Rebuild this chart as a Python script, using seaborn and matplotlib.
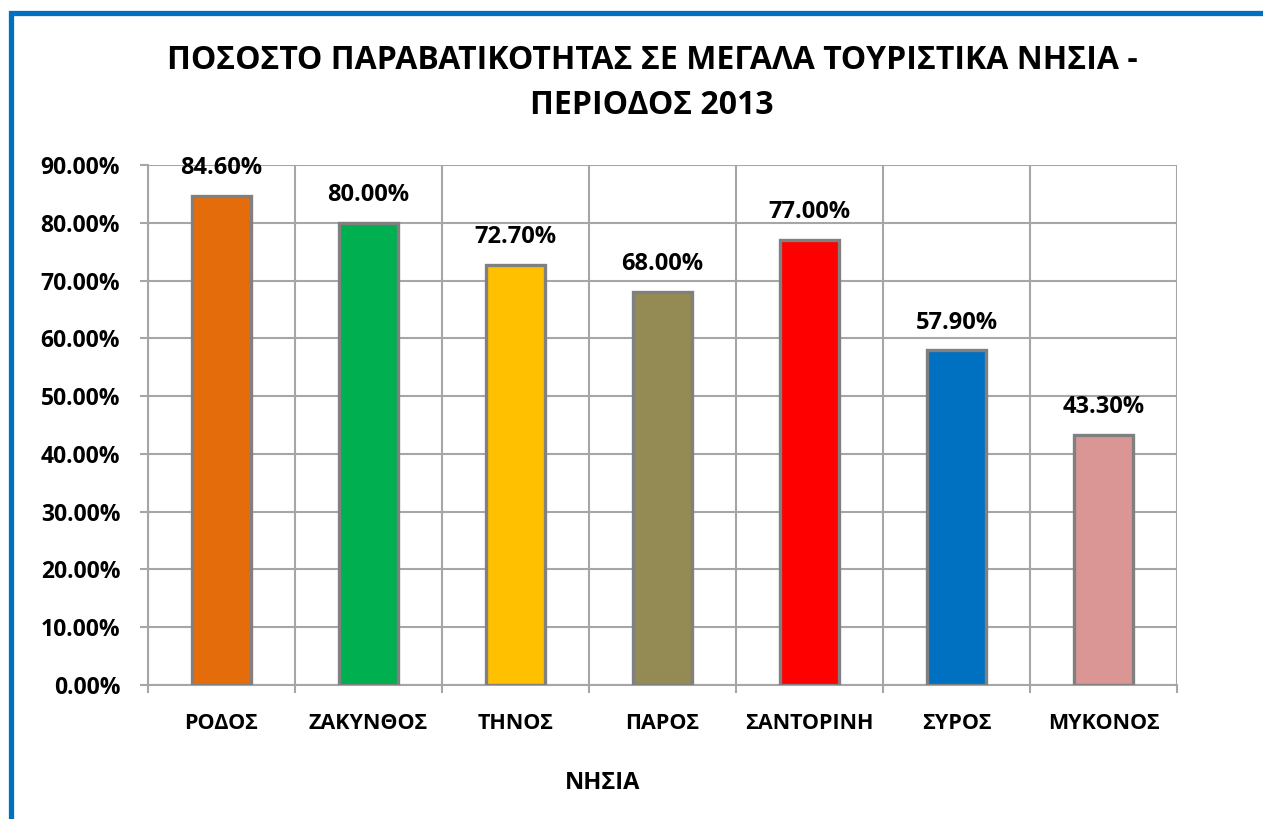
import matplotlib
matplotlib.use("Agg")
import matplotlib.pyplot as plt
from matplotlib.patches import Rectangle
from matplotlib.ticker import FuncFormatter, FixedLocator
import seaborn as sns
import pandas as pd

islands = ["ΡΟΔΟΣ", "ΖΑΚΥΝΘΟΣ", "ΤΗΝΟΣ", "ΠΑΡΟΣ", "ΣΑΝΤΟΡΙΝΗ", "ΣΥΡΟΣ", "ΜΥΚΟΝΟΣ"]
rates = [0.846, 0.800, 0.727, 0.680, 0.770, 0.579, 0.433]
bar_colors = ["#E46C0A", "#00B050", "#FFC000", "#948A54", "#FF0000", "#0070C0", "#D99694"]
y_ticks = [0.0, 0.1, 0.2, 0.3, 0.4, 0.5, 0.6, 0.7, 0.8, 0.9]

title = "ΠΟΣΟΣΤΟ ΠΑΡΑΒΑΤΙΚΟΤΗΤΑΣ ΣΕ ΜΕΓΑΛΑ ΤΟΥΡΙΣΤΙΚΑ ΝΗΣΙΑ -\nΠΕΡΙΟΔΟΣ 2013"
x_title = "ΝΗΣΙΑ"

sns.set_theme(style="white")
plt.rcParams["font.family"] = ["Open Sans", "DejaVu Sans"]
plt.rcParams["font.weight"] = "bold"
plt.rcParams["text.color"] = "black"
plt.rcParams["axes.labelcolor"] = "black"
plt.rcParams["xtick.labelcolor"] = "black"
plt.rcParams["ytick.labelcolor"] = "black"

df = pd.DataFrame({"island": islands, "rate": rates})

W, H = 1263, 819
fig = plt.figure(figsize=(W / 100, H / 100), dpi=100)
ax = fig.add_axes([148 / W, 1 - 685 / H, (1177 - 148) / W, (685 - 165) / H])

grid_col = "#A6A6A6"
sns.barplot(data=df, x="island", y="rate", hue="island", palette=bar_colors,
            order=islands, hue_order=islands, dodge=False, legend=False,
            saturation=1, width=0.4, edgecolor="#808080", linewidth=2.4, ax=ax, zorder=3)

ax.set_ylim(0, 0.9)
ax.set_xlim(-0.5, len(islands) - 0.5)
ax.set_yticks(y_ticks)
ax.yaxis.set_major_formatter(FuncFormatter(lambda v, p: f"{v * 100:.2f}%"))
ax.grid(axis="y", color=grid_col, linewidth=1.5, zorder=0)

# category boundaries carry the vertical grid lines and the outward ticks
bounds = [i - 0.5 for i in range(len(islands) + 1)]
ax.xaxis.set_minor_locator(FixedLocator(bounds))
ax.grid(axis="x", which="minor", color=grid_col, linewidth=1.5, zorder=0)
ax.tick_params(axis="x", which="minor", bottom=True, length=6, width=1.5, color=grid_col)
ax.tick_params(axis="x", which="major", bottom=False, length=0, pad=20, labelsize=15.5,
               labelcolor="black")
ax.tick_params(axis="y", which="major", left=True, length=6, width=1.5, color=grid_col,
               pad=14, labelsize=16.5, labelcolor="black")
for lab in ax.get_xticklabels() + ax.get_yticklabels():
    lab.set_fontweight("bold")

for side in ("top", "right"):
    ax.spines[side].set_visible(False)
for side in ("left", "bottom"):
    ax.spines[side].set_color(grid_col)
    ax.spines[side].set_linewidth(1.5)

ax.set_ylabel("")
ax.set_xlabel(x_title, fontsize=17, fontweight="bold", color="black")
ax.xaxis.set_label_coords((603 - 148) / (1177 - 148), -0.165)

for i, v in enumerate(rates):
    ax.annotate(f"{v * 100:.2f}%", (i, v), xytext=(0, 20), textcoords="offset points",
                ha="center", va="center", fontsize=17, fontweight="bold", color="black",
                zorder=4)

fig.text(652 / W, 1 - 83 / H, title, ha="center", va="center", fontsize=23,
         fontweight="bold", color="black", linespacing=1.45)

fig.patches.append(Rectangle((10.5 / W, -0.5), 2, 1 - 12.5 / H + 0.5, transform=fig.transFigure,
                             fill=False, edgecolor="#0070C0", linewidth=3.8))

fig.savefig("out.png", dpi=100)
